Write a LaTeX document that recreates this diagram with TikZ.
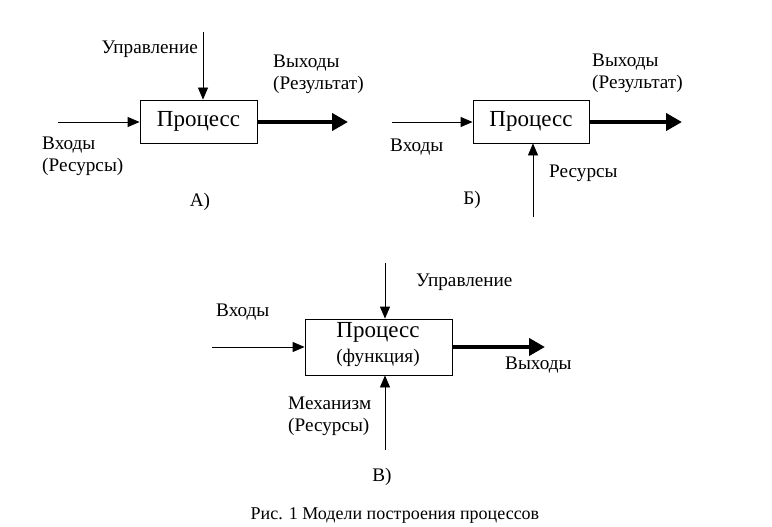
\documentclass[tikz,border=0pt]{standalone}
\usepackage{fontspec}
\setmainfont{Liberation Serif}
\usetikzlibrary{arrows.meta}
\begin{document}
\begin{tikzpicture}[x=1pt,y=-1pt,
  proc/.style={draw,line width=0.8pt,minimum width=#1,minimum height=43pt,inner sep=0pt,font=\fontsize{23}{26}\selectfont},
  lbl/.style={inner sep=0pt,font=\fontsize{19.2}{22}\selectfont},
  thin/.style={line width=0.8pt,-{Triangle[length=12pt,width=10pt]}},
  thick/.style={line width=4pt,-{Triangle[length=16pt,width=17pt]}}]
\useasboundingbox (0,0) rectangle (772,527);
% A
\node[proc=117pt] (pa) at (198.5,121.5) {Процесс};
\coordinate (pain) at (58,122);
\coordinate (paout) at (348,122);
\coordinate (patop) at (203,32);
\draw[thin] (pain) -- (pain -| pa.west);
\draw[thin] (patop) -- (patop |- pa.north);
\draw[thick] (pa.east |- paout) -- (paout);
\node[lbl,anchor=east] (la1) at (198,49) {Управление};
\node[lbl,anchor=west,align=left] (la2) at (273,74) {Выходы\\(Результат)};
\node[lbl,anchor=west,align=left] (la3) at (42,156) {Входы\\(Ресурсы)};
\node[lbl] (la4) at (200,202) {А)};
% B
\node[proc=116pt] (pb) at (531,121.5) {Процесс};
\coordinate (pbin) at (392,122);
\coordinate (pbout) at (682,122);
\coordinate (pbbot) at (533,217);
\draw[thin] (pbin) -- (pbin -| pb.west);
\draw[thin] (pbbot) -- (pbbot |- pb.south);
\draw[thick] (pb.east |- pbout) -- (pbout);
\node[lbl,anchor=west,align=left] (lb1) at (592,73) {Выходы\\(Результат)};
\node[lbl,anchor=west] (lb2) at (390,147) {Входы};
\node[lbl,anchor=west] (lb3) at (549,173) {Ресурсы};
\node[lbl] (lb4) at (472,200) {Б)};
% C
\node[draw,line width=0.8pt,minimum width=147pt,minimum height=56pt,inner sep=0pt] (pc) at (378.5,347) {};
\node[font=\fontsize{23}{26}\selectfont,inner sep=0pt] (pct) at (378,332) {Процесс};
\node[lbl,inner sep=0pt] (pcs) at (378,358) {(функция)};
\coordinate (pcin) at (212,347);
\coordinate (pcout) at (545,347);
\coordinate (pctop) at (385,263);
\coordinate (pcbot) at (385,450);
\draw[thin] (pcin) -- (pcin -| pc.west);
\draw[thin] (pctop) -- (pctop |- pc.north);
\draw[thin] (pcbot) -- (pcbot |- pc.south);
\draw[thick] (pc.east |- pcout) -- (pcout);
\node[lbl,anchor=west] (lc1) at (416,282) {Управление};
\node[lbl,anchor=west] (lc2) at (216,312) {Входы};
\node[lbl,anchor=west] (lc3) at (505,365) {Выходы};
\node[lbl,anchor=west,align=left] (lc4) at (288,416) {Механизм\\(Ресурсы)};
\node[lbl] (lc5) at (382,477) {В)};
\node[inner sep=0pt,font=\fontsize{18}{20}\selectfont] (cap) at (395,515) {Рис. 1 Модели построения процессов};
\end{tikzpicture}
\end{document}
